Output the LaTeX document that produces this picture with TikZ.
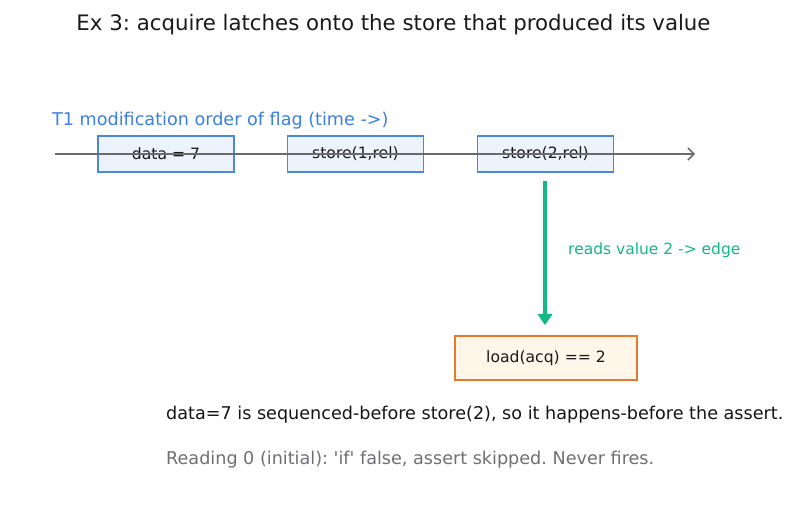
\documentclass[tikz,border=0pt]{standalone}
\usepackage{fontspec}
\newfontfamily\dvs{DejaVu Sans}
\usetikzlibrary{arrows.meta}
\frenchspacing
\definecolor{bluetxt}{HTML}{3B80DF}
\definecolor{boxblue}{HTML}{4A88DA}
\definecolor{fillblue}{HTML}{ECF3FD}
\definecolor{grn}{HTML}{12B886}
\definecolor{org}{HTML}{E8792A}
\definecolor{fillorg}{HTML}{FEF6E9}
\definecolor{graytxt}{HTML}{6E6F73}
\definecolor{linegray}{HTML}{6B6B6B}
\begin{document}
\begin{tikzpicture}[x=1pt,y=-1pt,
  every node/.style={font=\dvs, inner sep=0pt},
  storebox/.style={draw=boxblue, fill=fillblue, line width=1.6pt, minimum width=136pt, minimum height=36pt, font=\dvs\fontsize{15.6}{18}\selectfont, text=black!90},
  loadbox/.style={draw=org, fill=fillorg, line width=1.6pt, minimum width=182pt, minimum height=44pt, font=\dvs\fontsize{15.6}{18}\selectfont, text=black!90},
  bodytext/.style={anchor=west, font=\dvs\fontsize{17.6}{21}\selectfont}
]
\useasboundingbox (0,0) rectangle (797,508);
\node[font=\dvs\fontsize{21.3}{25}\selectfont, text=black!90] (title) at (393.5,25) {Ex 3: acquire latches onto the store that produced its value};
\node[anchor=west, font=\dvs\fontsize{17.6}{21}\selectfont, text=bluetxt] (lbl) at (52,121) {T1 modification order of flag (time ->)};
\node[storebox] (s0) at (166,154) {data = 7};
\node[storebox] (s1) at (355.5,154) {store(1,rel)};
\node[storebox] (s2) at (545.5,154) {store(2,rel)};
\coordinate (t0) at (55,154);
\coordinate (t1) at (695,154);
\draw[linegray, line width=1.5pt, -{Straight Barb[length=6pt,width=12pt]}] (t0) -- (t1);
\node[loadbox] (ld) at (546,358) {load(acq) == 2};
\draw[grn, line width=4pt, shorten <=8pt, shorten >=10pt, -{Triangle[length=11pt,width=14pt]}] (s2.south -| 545,0) -- (ld.north -| 545,0);
\node[anchor=west, font=\dvs\fontsize{15.5}{18}\selectfont, text=grn] (rv) at (568,250) {reads value 2 -> edge};
\node[bodytext, text=black!92] (n1) at (166,415) {data=7 is sequenced-before store(2), so it happens-before the assert.};
\node[bodytext, text=graytxt] (n2) at (166,460) {Reading 0 (initial): 'if' false, assert skipped. Never fires.};
\end{tikzpicture}
\end{document}
